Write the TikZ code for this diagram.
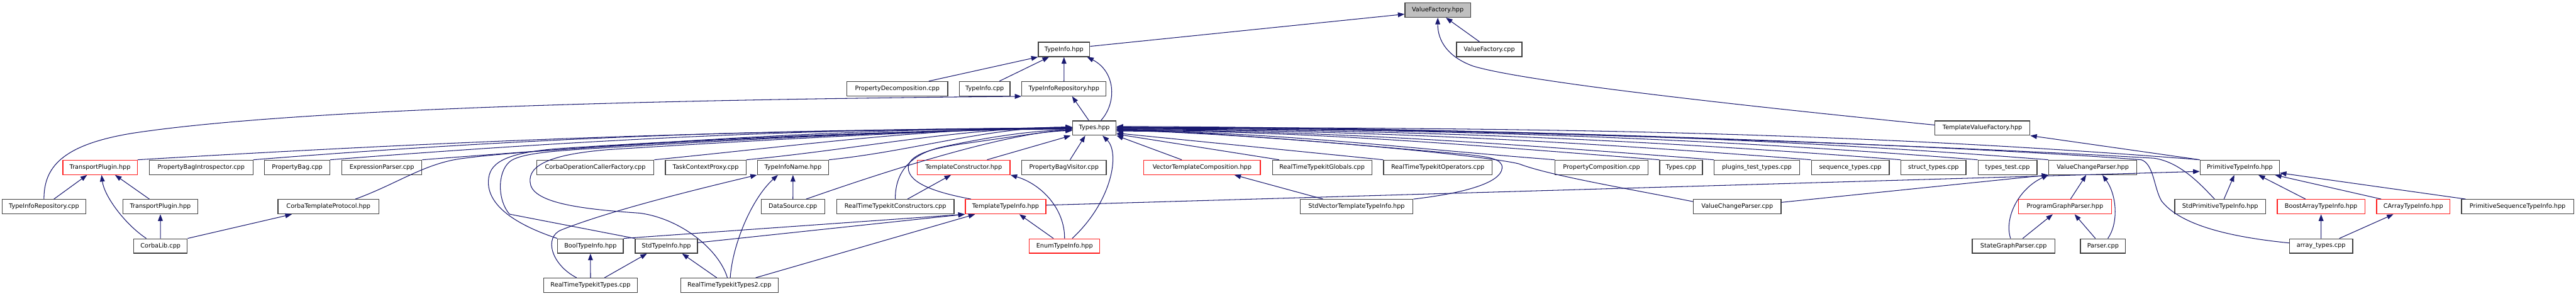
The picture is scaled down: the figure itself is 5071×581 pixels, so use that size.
\documentclass[tikz,border=0pt]{standalone}
\usepackage{fontspec}
\setmainfont{DejaVu Sans}
\usetikzlibrary{arrows.meta}
\definecolor{edgeblue}{HTML}{191970}
\definecolor{boxgray}{HTML}{404040}
\definecolor{boxred}{HTML}{FF1E1E}
\definecolor{fillgray}{HTML}{BFBFBF}
\tikzset{
  box/.style={draw=boxgray, line width=1.6pt, minimum height=28.3pt, inner sep=0pt, anchor=center, font=\fontsize{12}{14}\selectfont},
  redbox/.style={box, draw=boxred},
  graybox/.style={box, fill=fillgray},
  inc/.style={draw=edgeblue, line width=1.3pt, -{Triangle[length=13pt,width=9.5pt]}}
}
\begin{document}
\begin{tikzpicture}[x=1pt,y=-1pt]
\useasboundingbox (0,0) rectangle (5071,581);
% row 0
\node[graybox, minimum width=129.3pt] (vfh) at (2830.35,19.8) {ValueFactory.hpp};
% row 1
\node[box, minimum width=101.2pt] (tih) at (2094.5,97.1) {TypeInfo.hpp};
\node[box, minimum width=128.6pt] (vfc) at (2931.6,97.1) {ValueFactory.cpp};
% row 2
\node[box, minimum width=198.4pt] (pdc) at (1766.5,174.4) {PropertyDecomposition.cpp};
\node[box, minimum width=99.8pt] (tic) at (1938.5,174.4) {TypeInfo.cpp};
\node[box, minimum width=165.7pt] (tirh) at (2094.45,174.4) {TypeInfoRepository.hpp};
% row 3
\node[box, minimum width=85.7pt] (typ) at (2154.35,251.7) {Types.hpp};
\node[box, minimum width=186.9pt] (tvf) at (3902.45,251.7) {TemplateValueFactory.hpp};
% row 4
\node[redbox, minimum width=146.5pt] (tpr) at (196.95,329) {TransportPlugin.hpp};
\node[box, minimum width=204.1pt] (pbi) at (395.95,329) {PropertyBagIntrospector.cpp};
\node[box, minimum width=128.3pt] (pb) at (585.15,329) {PropertyBag.cpp};
\node[box, minimum width=157.5pt] (ep) at (751.65,329) {ExpressionParser.cpp};
\node[box, minimum width=230.8pt] (cocf) at (1171.9,329) {CorbaOperationCallerFactory.cpp};
\node[box, minimum width=158.8pt] (tcp) at (1389.2,329) {TaskContextProxy.cpp};
\node[box, minimum width=140pt] (tin) at (1561,329) {TypeInfoName.hpp};
\node[redbox, minimum width=182.7pt] (tch) at (1897.05,329) {TemplateConstructor.hpp};
\node[box, minimum width=166.6pt] (pbv) at (2094.5,329) {PropertyBagVisitor.cpp};
\node[redbox, minimum width=229.4pt] (vtc) at (2366.3,329) {VectorTemplateComposition.hpp};
\node[box, minimum width=195.7pt] (rtg) at (2602.55,329) {RealTimeTypekitGlobals.cpp};
\node[box, minimum width=213.4pt] (rto) at (2830.4,329) {RealTimeTypekitOperators.cpp};
\node[box, minimum width=183.1pt] (pcc) at (3152.75,329) {PropertyComposition.cpp};
\node[box, minimum width=84.1pt] (tyc) at (3309.15,329) {Types.cpp};
\node[box, minimum width=167.7pt] (ptt) at (3458.35,329) {plugins\_test\_types.cpp};
\node[box, minimum width=153.1pt] (sqt) at (3642.45,329) {sequence\_types.cpp};
\node[box, minimum width=128pt] (stt) at (3806.2,329) {struct\_types.cpp};
\node[box, minimum width=115.9pt] (tts) at (3951.85,329) {types\_test.cpp};
\node[box, minimum width=173.5pt] (vcph) at (4119.75,329) {ValueChangeParser.hpp};
\node[box, minimum width=156.1pt] (pti) at (4409.05,329) {PrimitiveTypeInfo.hpp};
% row 5
\node[box, minimum width=164.1pt] (tirc) at (86.55,406.3) {TypeInfoRepository.cpp};
\node[box, minimum width=146.6pt] (tpb) at (315.7,406.3) {TransportPlugin.hpp};
\node[box, minimum width=198.6pt] (ctp) at (646.6,406.3) {CorbaTemplateProtocol.hpp};
\node[box, minimum width=124.9pt] (dsc) at (1560.85,406.3) {DataSource.cpp};
\node[box, minimum width=231.1pt] (rtc) at (1762.45,406.3) {RealTimeTypekitConstructors.cpp};
\node[redbox, minimum width=158.8pt] (tti) at (1979.6,406.3) {TemplateTypeInfo.hpp};
\node[box, minimum width=222.4pt] (svt) at (2670.4,406.3) {StdVectorTemplateTypeInfo.hpp};
\node[box, minimum width=172.2pt] (vcpc) at (3419.8,406.3) {ValueChangeParser.cpp};
\node[redbox, minimum width=182.8pt] (pgp) at (4064.9,406.3) {ProgramGraphParser.hpp};
\node[box, minimum width=178.5pt] (spt) at (4370.45,406.3) {StdPrimitiveTypeInfo.hpp};
\node[redbox, minimum width=172.4pt] (bat) at (4569.1,406.3) {BoostArrayTypeInfo.hpp};
\node[redbox, minimum width=144.2pt] (cat) at (4750.6,406.3) {CArrayTypeInfo.hpp};
\node[box, minimum width=220.9pt] (pst) at (4955.95,406.3) {PrimitiveSequenceTypeInfo.hpp};
% row 6
\node[box, minimum width=105.3pt] (clb) at (315.95,483.6) {CorbaLib.cpp};
\node[box, minimum width=129.3pt] (bti) at (1162.35,483.6) {BoolTypeInfo.hpp};
\node[box, minimum width=122.6pt] (sti) at (1311.7,483.6) {StdTypeInfo.hpp};
\node[redbox, minimum width=138.8pt] (eti) at (2095.7,483.6) {EnumTypeInfo.hpp};
\node[box, minimum width=162.9pt] (sgp) at (3963.85,483.6) {StateGraphParser.cpp};
\node[box, minimum width=88.6pt] (par) at (4139.8,483.6) {Parser.cpp};
\node[box, minimum width=124.3pt] (art) at (4569.15,483.6) {array\_types.cpp};
% row 7
\node[box, minimum width=183.6pt] (rtt) at (1162.5,560.9) {RealTimeTypekitTypes.cpp};
\node[box, minimum width=191.8pt] (rtt2) at (1435.9,560.9) {RealTimeTypekitTypes2.cpp};

% ---- edges into ValueFactory.hpp
\draw[inc] ([yshift=6pt]tih.east) -- ([yshift=-8pt]vfh.west);
\draw[inc] ([xshift=-19pt]vfc.north) -- ([xshift=16pt]vfh.south);
\draw[inc] ([yshift=6pt]tvf.west) .. controls (3400,205) and (3000,160) .. (2900,130) .. controls (2850,112) and (2830,80) .. (vfh.south);
% ---- into TypeInfo.hpp
\draw[inc] ([xshift=-38pt]pdc.north east) -- (tih.south west);
\draw[inc] ([xshift=29pt]tic.north) -- ([xshift=22pt]tih.south west);
\draw[inc] (tirh.north) -- (tih.south);
\draw[inc] ([xshift=13pt]typ.north) .. controls (2200,200) and (2195,140) .. ([xshift=-6pt]tih.south east);
% ---- into TypeInfoRepository.hpp
\draw[inc] ([xshift=-11pt]typ.north) -- ([xshift=16pt]tirh.south);
\draw[inc] (tirc.north) .. controls (86.5,330) and (120,285) .. (260,262) .. controls (600,210) and (1400,195) .. (tirh.south west);
% ---- left bundle into Types.hpp
\draw[inc] (tpr.north east) .. controls (914,276) and (1467,254) .. ([yshift=-2pt]typ.west);
\draw[inc] (pbi.north east) .. controls (1063,269) and (1547,253) .. ([yshift=-1pt]typ.west);
\draw[inc] (pb.north east) .. controls (1161,274) and (1600,252) .. (typ.west);
\draw[inc] (ep.north east) .. controls (1278,280) and (1663,252) .. (typ.west);
\draw[inc] ([xshift=53pt]ctp.north) .. controls (780,362) and (830,325) .. (900,313) .. controls (1050,290) and (1750,255) .. ([yshift=-2pt]typ.west);
\draw[inc] (bti.north west) .. controls (1010,440) and (955,400) .. (962,350) .. controls (966,318) and (1000,300) .. (1100,292) .. controls (1400,272) and (1850,254) .. ([yshift=-1pt]typ.west);
\draw[inc] (sti.north west) -- (1003,421) .. controls (980,395) and (978,340) .. (1003,318) .. controls (1025,300) and (1100,296) .. (1200,290) .. controls (1500,272) and (1850,255) .. (typ.west);
\draw[inc] ([xshift=-4pt]rtt2.north) .. controls (1415,490) and (1340,430) .. (1260,419) .. controls (1160,412) and (1058,402) .. (1045,365) .. controls (1035,330) and (1070,304) .. (1200,294) .. controls (1500,275) and (1850,256) .. ([yshift=1pt]typ.west);
\draw[inc] (cocf.north east) .. controls (1576,286) and (1823,251) .. ([yshift=1pt]typ.west);
\draw[inc] (tcp.north east) .. controls (1694,293) and (1886,251) .. ([yshift=1pt]typ.west);
\draw[inc] (tin.north east) .. controls (1799,297) and (1943,250) .. ([yshift=2pt]typ.west);
\draw[inc] ([xshift=26pt]dsc.north) .. controls (1720,345) and (1960,265) .. ([yshift=-3pt]typ.west);
\draw[inc] (rtc.north) .. controls (1762,340) and (1790,305) .. (1850,290) .. controls (1950,268) and (2040,256) .. ([yshift=-4pt]typ.west);
\draw[inc] ([xshift=12pt]tti.north west) .. controls (1850,380) and (1788,362) .. (1788,330) .. controls (1788,305) and (1830,292) .. (1900,282) .. controls (2000,268) and (2060,258) .. ([yshift=-5pt]typ.west);
% ---- bottom into Types.hpp
\draw[inc] ([xshift=46pt]tch.north) -- ([xshift=-3pt]typ.south west);
\draw[inc] ([xshift=12pt]pbv.north) -- ([xshift=-18pt]typ.south);
\draw[inc] ([xshift=15pt]eti.north) .. controls (2190,395) and (2205,300) .. ([xshift=16pt]typ.south);
\draw[inc] ([xshift=-40pt]vtc.north) -- (typ.south east);
% ---- right bundle into Types.hpp
\draw[inc] ([xshift=14pt]rtg.north west) -- ([yshift=-12pt]typ.east);
\draw[inc] (rto.north west) -- ([yshift=-10pt]typ.east);
\draw[inc] (pcc.north west) .. controls (2759,291) and (2500,258) .. ([yshift=-6pt]typ.east);
\draw[inc] (tyc.north west) .. controls (2893,285) and (2572,257) .. ([yshift=-5pt]typ.east);
\draw[inc] (ptt.north west) .. controls (2962,282) and (2609,256) .. ([yshift=-4pt]typ.east);
\draw[inc] (sqt.north west) .. controls (3087,277) and (2676,255) .. ([yshift=-3pt]typ.east);
\draw[inc] (stt.north west) .. controls (3201,272) and (2738,254) .. ([yshift=-2pt]typ.east);
\draw[inc] (tts.north west) .. controls (3300,267) and (2791,253) .. ([yshift=-1pt]typ.east);
\draw[inc] (vcph.north west) .. controls (3390,264) and (2840,252) .. (typ.east);
\draw[inc] (pti.north west) .. controls (3584,255) and (2944,251) .. ([yshift=1pt]typ.east);
\draw[inc] ([xshift=-11pt]spt.north) .. controls (4330,360) and (4290,318) .. (4240,311) .. controls (3800,285) and (2900,252) .. ([yshift=2pt]typ.east);
\draw[inc] ([yshift=6pt]art.west) .. controls (4380,465) and (4290,440) .. (4255,395) .. controls (4240,370) and (4240,322) .. (4215,314) .. controls (3800,283) and (2900,250) .. ([yshift=3pt]typ.east);
\draw[inc] (svt.north east) .. controls (2880,380) and (2955,360) .. (2957,330) .. controls (2958,312) and (2930,308) .. (2880,303) .. controls (2600,278) and (2350,258) .. ([yshift=-3pt]typ.east);
\draw[inc] ([yshift=10pt]vcpc.west) .. controls (3200,370) and (3050,345) .. (2990,322) .. controls (2920,305) and (2500,265) .. ([yshift=-4pt]typ.east);
% ---- other edges, left part
\draw[inc] ([xshift=-21.7pt]tpb.north) -- ([xshift=29.5pt]tpr.south);
\draw[inc] ([xshift=19.6pt]tirc.north) -- ([xshift=-25.5pt]tpr.south);
\draw[inc] ([xshift=-28pt]clb.north) .. controls (245,440) and (205,385) .. ([xshift=3pt]tpr.south);
\draw[inc] (clb.north) -- (tpb.south);
\draw[inc] (clb.north east) -- ([xshift=28pt]ctp.south west);
\draw[inc] (rtt.north) -- (bti.south);
\draw[inc] ([xshift=27.5pt]rtt.north) -- ([xshift=24pt]sti.south west);
\draw[inc] ([xshift=-27.5pt]rtt.north) .. controls (1085,520) and (1070,466) .. (1105,452) .. controls (1200,414) and (1380,370) .. (tin.south west);
\draw[inc] ([xshift=-25pt]rtt2.north) -- ([xshift=-31pt]sti.south east);
\draw[inc] ([xshift=1.6pt]rtt2.north) .. controls (1442,480) and (1480,390) .. ([xshift=-29.6pt]tin.south);
\draw[inc] ([xshift=-45pt]rtt2.north east) -- ([xshift=20pt]tti.south west);
\draw[inc] (bti.north east) -- (tti.south west);
\draw[inc] ([yshift=6.6pt]sti.east) -- (tti.south west);
\draw[inc] ([xshift=24pt]rtc.north) -- ([xshift=-25pt]tch.south);
\draw[inc] (dsc.north) -- (tin.south);
% ---- middle part
\draw[inc] (eti.north) .. controls (2096,410) and (2050,362) .. (tch.south east);
\draw[inc] ([xshift=-22pt]eti.north) -- ([xshift=27pt]tti.south);
\draw[inc] ([xshift=46pt]svt.north west) -- ([xshift=-52pt]vtc.south east);
\draw[inc] ([yshift=3pt]tti.east) -- ([yshift=-8pt]pti.west);
% ---- right part
\draw[inc] (pti.north west) -- (tvf.south east);
\draw[inc] ([yshift=8.5pt]vcpc.east) -- (vcph.south west);
\draw[inc] ([xshift=11pt]pgp.north) -- ([xshift=-13pt]vcph.south);
\draw[inc] ([xshift=9.6pt]par.north) .. controls (4170,440) and (4168,385) .. ([xshift=19pt]vcph.south);
\draw[inc] ([xshift=-6pt]sgp.north) .. controls (3945,430) and (3972,372) .. (vcph.south west);
\draw[inc] ([xshift=18pt]sgp.north) -- ([xshift=-24pt]pgp.south);
\draw[inc] ([xshift=-15pt]par.north) -- ([xshift=19pt]pgp.south);
\draw[inc] ([xshift=7.5pt]spt.north) -- ([xshift=-10.7pt]pti.south);
\draw[inc] ([xshift=-30.5pt]bat.north) -- ([xshift=36.7pt]pti.south);
\draw[inc] ([xshift=9.7pt]cat.north west) -- ([xshift=-9.7pt]pti.south east);
\draw[inc] ([xshift=9pt]pst.north west) -- ([yshift=-11pt]pti.east);
\draw[inc] (art.north) -- (bat.south);
\draw[inc] ([xshift=-27pt]art.north east) -- ([xshift=-39pt]cat.south);
\end{tikzpicture}
\end{document}
